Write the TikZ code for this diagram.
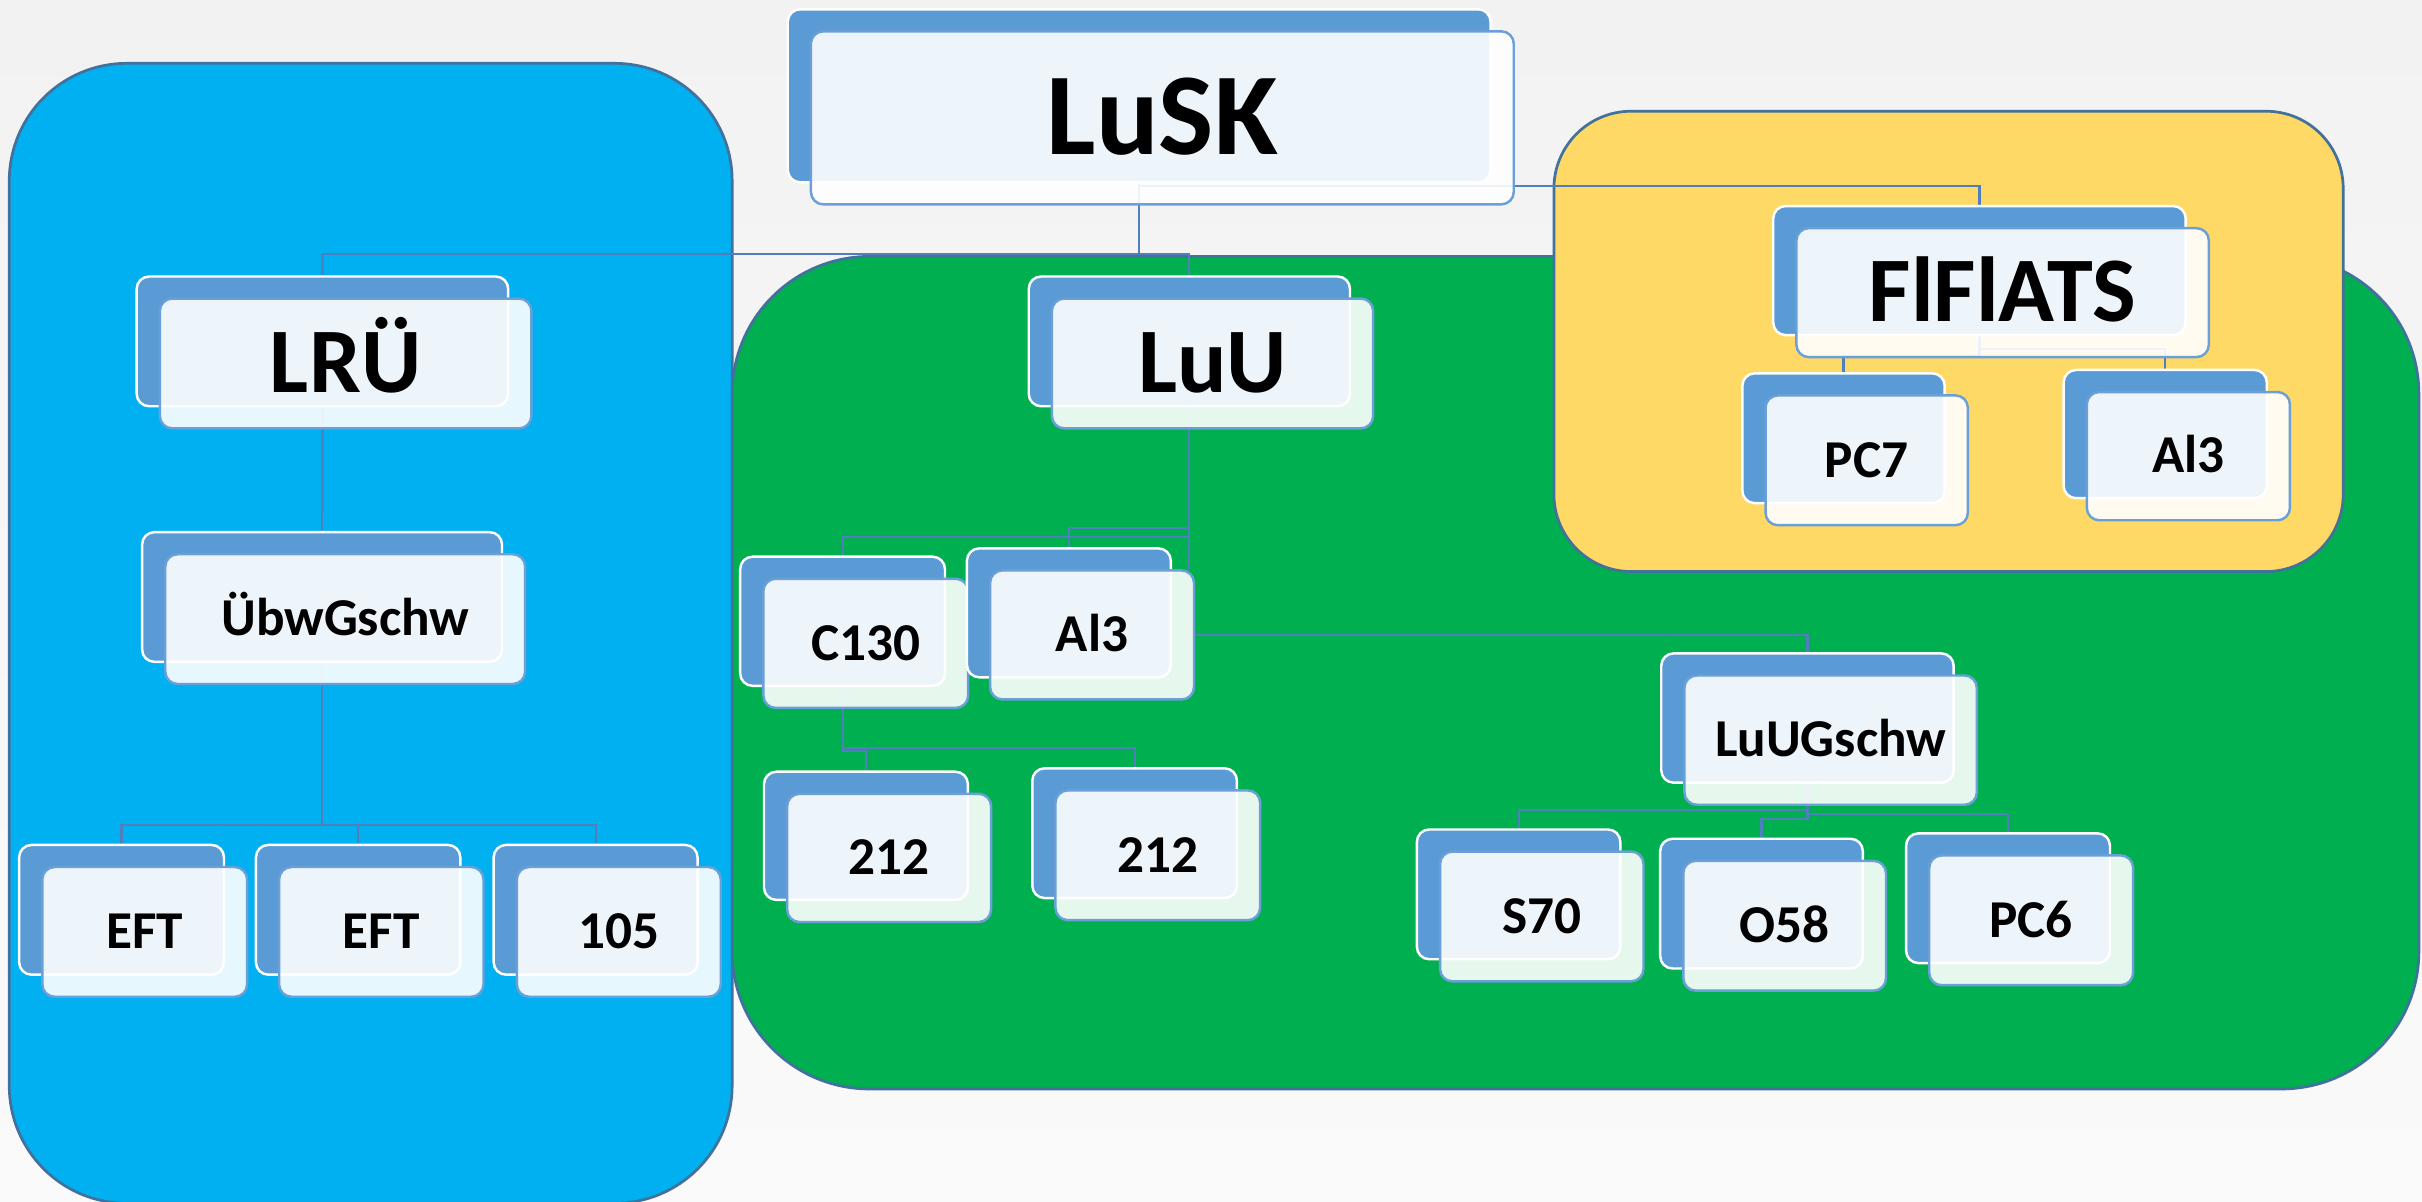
\documentclass[tikz,border=0pt]{standalone}
\usepackage{fontspec}
\setmainfont{Carlito}
\usetikzlibrary{calc}
\definecolor{bgtop}{HTML}{F2F2F2}
\definecolor{bgbot}{HTML}{FAFAFA}
\definecolor{panelblue}{HTML}{00B0F0}
\definecolor{panelgreen}{HTML}{00B050}
\definecolor{panelyellow}{HTML}{FFD966}
\definecolor{panelline}{HTML}{41719C}
\definecolor{backfill}{HTML}{5B9BD5}
\definecolor{frontline}{HTML}{6A9FD8}
\definecolor{connline}{HTML}{4F7FBD}
\pgfdeclarelayer{panels}
\pgfdeclarelayer{links}
\pgfsetlayers{panels,links,main}
\tikzset{
  panel/.style={draw=panelline, line width=0.5pt},
  backbox/.style={draw=white, line width=0.45pt, fill=backfill, rounded corners=0.08cm, inner sep=0pt},
  frontbox/.style={draw=frontline, line width=0.45pt, fill=white, fill opacity=0.9, text opacity=1, draw opacity=1,
    rounded corners=0.08cm, inner sep=0pt, text depth=0pt, text=black},
  fsmall/.style={font=\bfseries\fontsize{9.8pt}{11pt}\selectfont, text height=6.2pt},
  fbig/.style={font=\bfseries\fontsize{17pt}{19pt}\selectfont, text height=10.7pt},
  fhuge/.style={font=\bfseries\fontsize{21.5pt}{24pt}\selectfont, text height=13.6pt},
  conn/.style={draw=connline, line width=0.4pt},
}
% name, x, y, w, h (back box, top-left in px), text style, text
\newcommand{\card}[7]{%
  \node[backbox, minimum width=#4*0.01cm, minimum height=#5*0.01cm] (#1b) at ({#2+#4/2},{#3+#5/2}) {};
  \node[frontbox, #6, minimum width=#4*0.01cm, minimum height=#5*0.01cm] (#1) at ({#2+#4/2+15},{#3+#5/2+14.3}) {#7};
}
\newcommand{\link}[3][12]{\draw[conn] (#2b.south) |- ($(#3b.north)+(0,-#1)$) -- (#3b.north);}
\begin{document}
\begin{tikzpicture}[x=0.01cm, y=-0.01cm]
\useasboundingbox (0,0) rectangle (1568,778);
\begin{pgfonlayer}{panels}
\shade[top color=bgtop, bottom color=bgbot] (0,0) rectangle (1568,778);
\draw[panel, fill=panelblue, rounded corners=0.76cm] (6,41) rectangle (474,779);
\draw[panel, fill=panelgreen, rounded corners=0.89cm] (474,166) rectangle (1566,705);
\draw[panel, fill=panelyellow, rounded corners=0.5cm] (1006,72) rectangle (1517,370);
\end{pgfonlayer}
% cards
\card{LuSK}{510}{6}{455}{112}{fhuge}{LuSK}
\card{LRU}{88.5}{179}{240.5}{84}{fbig}{LRÜ}
\card{LuU}{666}{179}{208}{84}{fbig}{LuU}
\card{FlFlATS}{1148}{133.4}{267}{83.5}{fbig}{FlFlATS}
\card{PC7}{1128}{241.7}{131}{84}{fsmall}{PC7}
\card{Al3x}{1336}{239.5}{131.5}{83}{fsmall}{Al3}
\card{Ubw}{92}{344.5}{233}{84}{fsmall}{ÜbwGschw}
\card{EFTa}{12.4}{547}{132.6}{84}{fsmall}{EFT}
\card{EFTb}{165.7}{547}{132.3}{84}{fsmall}{EFT}
\card{n105}{319.6}{547}{132}{84}{fsmall}{105}
\card{C130}{479.2}{360.4}{132.6}{83.6}{fsmall}{C130}
\card{Al3}{626}{355}{132}{83.5}{fsmall}{Al3}
\card{n212a}{494.6}{499.6}{132}{83}{fsmall}{212}
\card{n212b}{668.3}{497.4}{132.5}{84}{fsmall}{212}
\card{LuUG}{1075.5}{423}{189.3}{83.7}{fsmall}{LuUGschw}
\card{S70}{917.3}{537}{131.7}{84}{fsmall}{S70}
\card{O58}{1074.8}{543}{131.2}{84}{fsmall}{O58}
\card{PC6}{1234}{539.5}{132}{84}{fsmall}{PC6}
% connectors
\begin{pgfonlayer}{links}
\link[14]{LuSK}{LRU}
\link[14]{LuSK}{LuU}
\link[12.4]{LuSK}{FlFlATS}
\link[10.7]{FlFlATS}{PC7}
\link[12.9]{FlFlATS}{Al3x}
\link{LRU}{Ubw}
\link{Ubw}{EFTa}
\link{Ubw}{EFTb}
\link{Ubw}{n105}
\link[12.3]{LuU}{Al3}
\link{LuU}{C130}
\draw[conn] (LuUb.south) -- (LuUb.south |- Al3.north);
\link[12.4]{C130}{n212a}
\link[12.4]{C130}{n212b}
\draw[conn] (Al3.east) -| (LuUGb.north);
\link{LuUG}{S70}
\link{LuUG}{O58}
\link{LuUG}{PC6}
\end{pgfonlayer}
\end{tikzpicture}
\end{document}
